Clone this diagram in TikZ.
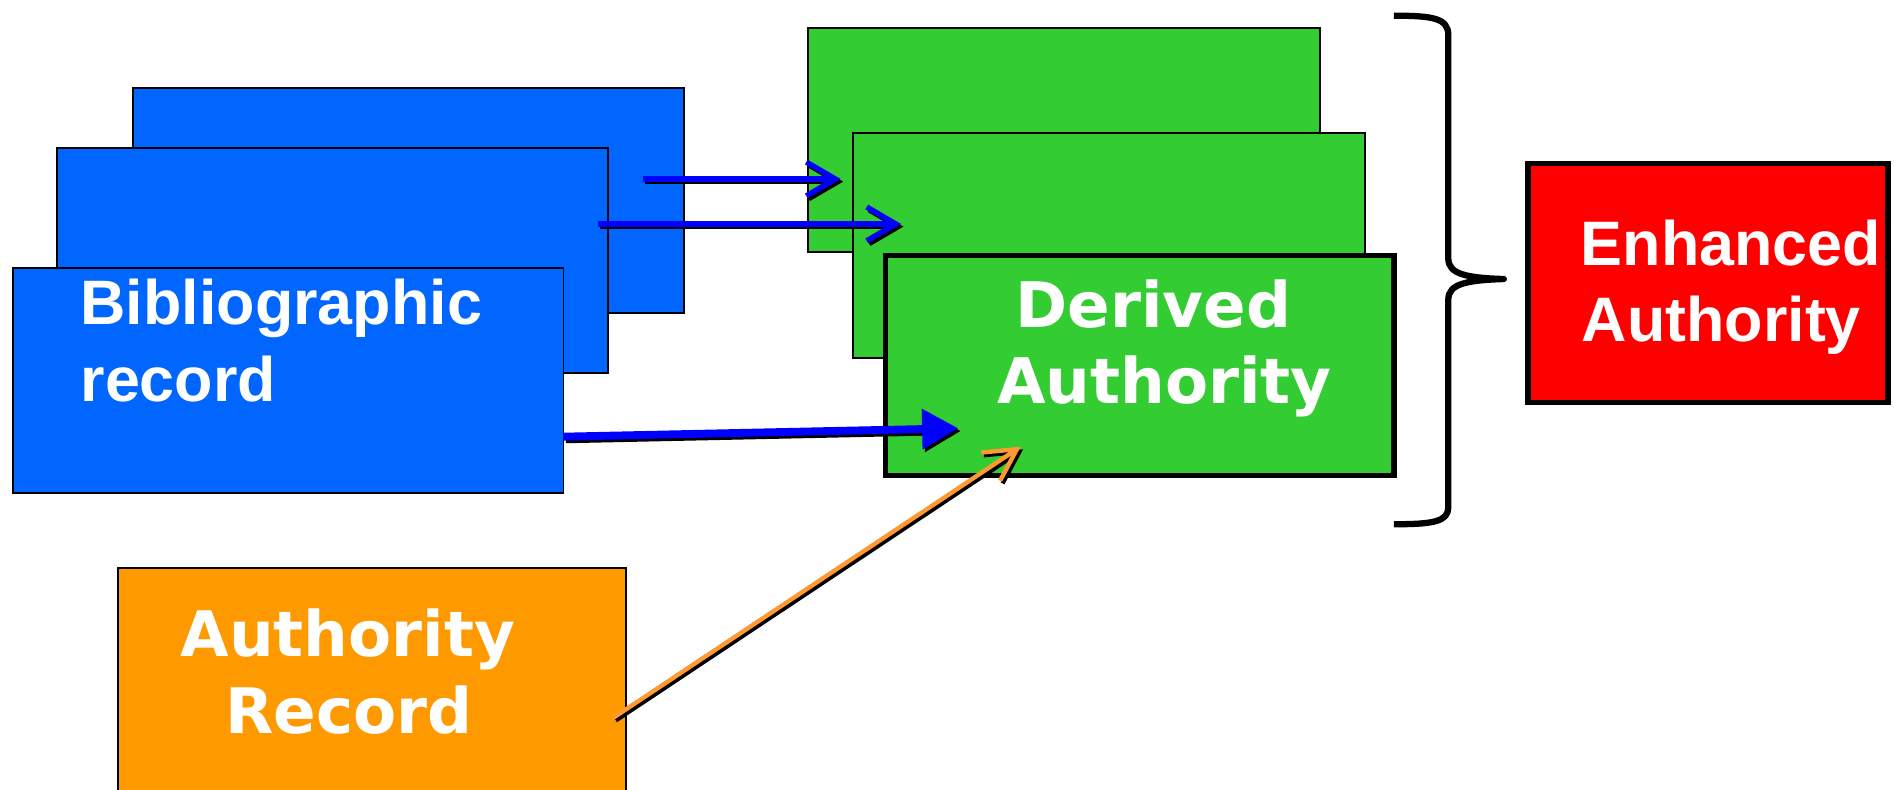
\documentclass[tikz,border=0pt]{standalone}
\usepackage{fontspec}
\setmainfont{Liberation Sans}
\newfontfamily\verdfont{DejaVu Sans}
\usetikzlibrary{arrows.meta}
\definecolor{bibblue}{HTML}{0066FF}
\definecolor{dagreen}{HTML}{33CC33}
\definecolor{enred}{HTML}{FF0000}
\definecolor{arorange}{HTML}{FF9900}
\definecolor{arrblue}{HTML}{0000FF}
\definecolor{arrorange}{HTML}{FF9933}
\begin{document}
\begin{tikzpicture}[x=1pt,y=-1pt,
  box/.style={draw=black, line width=1.6pt, anchor=north west, inner sep=0pt, outer sep=0pt},
  lblA/.style={text=white, font=\fontsize{52}{63}\selectfont\bfseries, inner sep=0pt},
  lblV/.style={text=white, font=\fontsize{52}{63}\selectfont\verdfont\bfseries, inner sep=0pt},
  barbarrow/.style={line width=4.5pt, -{Straight Barb[length=24pt, width=28pt]}},
  triarrow/.style={line width=6.5pt, -{Triangle[length=30pt, width=32pt]}},
  orarrow/.style={line width=3.6pt, -{Straight Barb[length=26pt, width=28pt]}},
  shadowlayer/.style={transform canvas={shift={(2,2.2)}}}
]
\useasboundingbox (0,0) rectangle (1568,653.2);

% blue stack
\node[box, fill=bibblue, minimum width=456pt, minimum height=186pt] (bibB) at (110,73) {};
\node[box, fill=bibblue, minimum width=456pt, minimum height=186pt] (bibM) at (47.5,122.5) {};
\node[box, fill=bibblue, minimum width=456pt, minimum height=186pt] (bibF) at (10.5,222) {};
\node[lblA, anchor=base west] (bibt1) at (66.5,269) {Bibliographic};
\node[lblA, anchor=base west] (bibt2) at (66.5,332.5) {record};

% green stack
\node[box, fill=dagreen, minimum width=424pt, minimum height=186pt] (derB) at (669,23) {};
\node[box, fill=dagreen, minimum width=424pt, minimum height=186pt] (derM) at (706,110) {};
\node[box, fill=dagreen, line width=4.4pt, minimum width=421pt, minimum height=182pt] (derF) at (733,211.5) {};
\node[lblV, anchor=base] (dert1) at (955,271) {Derived};
\node[lblV, anchor=base] (dert2) at (964,334) {Authority};

% red box
\node[box, fill=enred, line width=4.6pt, minimum width=298pt, minimum height=198pt] (enh) at (1265,135.3) {};
\node[lblA, anchor=base] (enht1) at (1433,219.4) {Enhanced};
\node[lblA, anchor=base] (enht2) at (1425,283) {Authority};

% orange box
\node[box, fill=arorange, minimum width=421pt, minimum height=220pt] (auth) at (97.5,470.5) {};
\node[lblV, anchor=base] (autht1) at (288,543.6) {Authority};
\node[lblV, anchor=base] (autht2) at (289,607) {Record};

% brace
\draw[line width=5.2pt, line join=round]
  (1154,13) .. controls (1186,13) and (1199,15) .. (1199,29) -- (1199,214)
  .. controls (1199,227) and (1214,230) .. (1245,231)
  .. controls (1214,232) and (1199,235) .. (1199,248) -- (1199,420)
  .. controls (1199,432) and (1186,434) .. (1154,434);

% connector end points
\coordinate (a1s) at (532,148.2);
\coordinate (a1e) at (696,148.2);
\coordinate (a2s) at (495,185.4);
\coordinate (a2e) at (746,185.4);
\coordinate (a3s) at (466.4,361.5);
\coordinate (a3e) at (793.4,354.6);
\coordinate (a4s) at (507.8,594.2);
\coordinate (a4e) at (845,369.8);

% shadows
\begin{scope}[shadowlayer]
  \draw[barbarrow, black] (a1s) -- (a1e);
  \draw[barbarrow, black] (a2s) -- (a2e);
  \draw[triarrow, black] (a3s) -- (a3e);
  \draw[orarrow, black] (a4s) -- (a4e);
\end{scope}
% arrows
\draw[barbarrow, arrblue] (a1s) -- (a1e);
\draw[barbarrow, arrblue] (a2s) -- (a2e);
\draw[triarrow, arrblue] (a3s) -- (a3e);
\draw[orarrow, arrorange] (a4s) -- (a4e);
\end{tikzpicture}
\end{document}
